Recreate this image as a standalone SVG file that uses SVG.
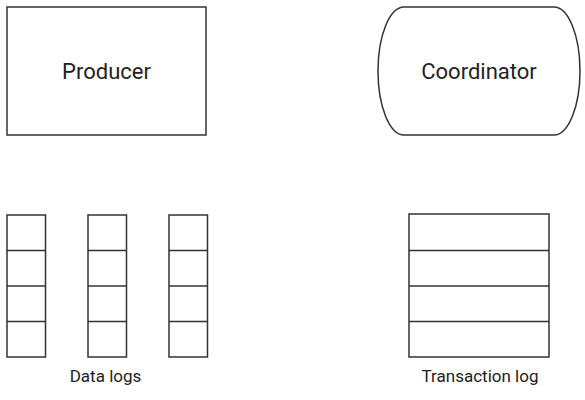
<svg xmlns="http://www.w3.org/2000/svg" width="585" height="400" viewBox="0 0 585 400">
<style>
.s{fill:#fff;stroke:#333;stroke-width:1.5}
.l{stroke:#333;stroke-width:1.5}
.t{font-family:Roboto,"Liberation Sans",sans-serif;fill:#222;text-anchor:middle}
.big{font-size:22px}
.sm{font-size:17px}
</style>
<g id="producer">
<rect class="s" x="7" y="7" width="199" height="128"/>
<text class="t big" x="106.5" y="79">Producer</text>
</g>
<g id="coordinator">
<rect class="s" x="378" y="7" width="202" height="128" rx="26" ry="64"/>
<text class="t big" x="479" y="79">Coordinator</text>
</g>
<g id="data-logs">
<g id="data-log-1">
<rect class="s" x="7" y="215" width="38.5" height="142"/>
<line class="l" x1="7" y1="250.5" x2="45.5" y2="250.5"/>
<line class="l" x1="7" y1="286" x2="45.5" y2="286"/>
<line class="l" x1="7" y1="321.5" x2="45.5" y2="321.5"/>
</g>
<g id="data-log-2">
<rect class="s" x="88" y="215" width="38.5" height="142"/>
<line class="l" x1="88" y1="250.5" x2="126.5" y2="250.5"/>
<line class="l" x1="88" y1="286" x2="126.5" y2="286"/>
<line class="l" x1="88" y1="321.5" x2="126.5" y2="321.5"/>
</g>
<g id="data-log-3">
<rect class="s" x="169" y="215" width="38.5" height="142"/>
<line class="l" x1="169" y1="250.5" x2="207.5" y2="250.5"/>
<line class="l" x1="169" y1="286" x2="207.5" y2="286"/>
<line class="l" x1="169" y1="321.5" x2="207.5" y2="321.5"/>
</g>
<text class="t sm" x="105.5" y="382">Data logs</text>
</g>
<g id="transaction-log">
<rect class="s" x="409" y="214" width="140" height="143"/>
<line class="l" x1="409" y1="250.5" x2="549" y2="250.5"/>
<line class="l" x1="409" y1="286" x2="549" y2="286"/>
<line class="l" x1="409" y1="321.5" x2="549" y2="321.5"/>
<text class="t sm" x="480" y="382">Transaction log</text>
</g>
<g id="connectors"></g>
</svg>
